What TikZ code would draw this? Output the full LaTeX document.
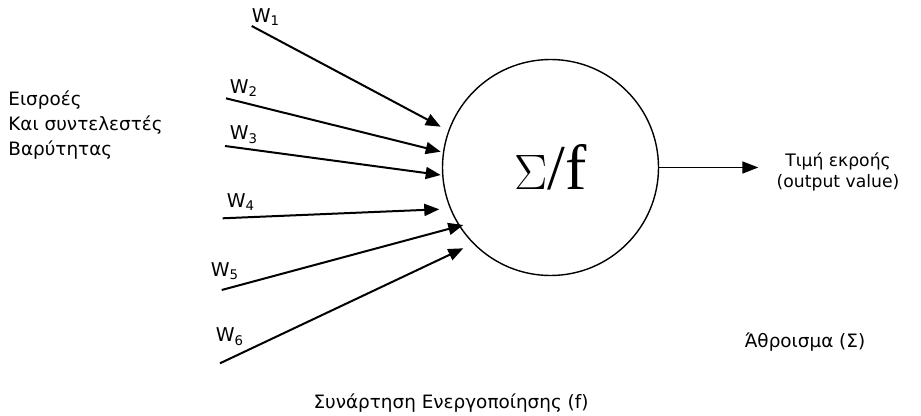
\documentclass[tikz,border=0pt]{standalone}
\usepackage{fontspec}
\setmainfont{DejaVu Sans}
\newfontfamily\symbfont{Liberation Serif}
\usepackage{tikz}
\usetikzlibrary{arrows.meta,positioning}

\begin{document}
\begin{tikzpicture}[
    x=0.5pt, y=-0.5pt,
    neuron/.style={draw, circle, line width=0.7pt, minimum size=108pt, inner sep=0pt,
                   font=\symbfont\fontsize{32}{32}\selectfont},
    txt/.style={font=\fontsize{9.2}{12.5}\selectfont, inner sep=0pt},
    wlbl/.style={font=\fontsize{9.5}{9.5}\selectfont, inner sep=0pt},
    inp/.style={-{Triangle[length=7.5pt,width=6pt]}, line width=1pt},
    outp/.style={-{Triangle[length=8pt,width=6pt]}, line width=0.8pt}
  ]
    \useasboundingbox (0,0) rectangle (921,416);

    %% ── neuron ──
    \node[neuron] (sum) at (550.5,167.5) {$\Sigma$/f};

    %% ── inputs and weights ──
    \node[txt, anchor=west, align=left] (inlbl) at (8,125) {Εισροές\\Και συντελεστές\\Βαρύτητας};

    \coordinate (s1) at (251.7,26);   \coordinate (t1) at (440.7,126.7);
    \coordinate (s2) at (226,98.3);   \coordinate (t2) at (440.7,151.7);
    \coordinate (s3) at (225,146);    \coordinate (t3) at (440.7,175);
    \coordinate (s4) at (222.7,218.3); \coordinate (t4) at (439.3,209.3);
    \coordinate (s5) at (221.7,290);  \coordinate (t5) at (463.3,225);
    \coordinate (s6) at (220,363.3);  \coordinate (t6) at (463.3,248.3);

    \node[wlbl] (w1) at (266,17)  {W\textsubscript{1}};
    \node[wlbl] (w2) at (244,88)  {W\textsubscript{2}};
    \node[wlbl] (w3) at (244,135) {W\textsubscript{3}};
    \node[wlbl] (w4) at (241,202) {W\textsubscript{4}};
    \node[wlbl] (w5) at (225,271) {W\textsubscript{5}};
    \node[wlbl] (w6) at (230,337) {W\textsubscript{6}};

    \draw[inp] (s1) -- (t1);
    \draw[inp] (s2) -- (t2);
    \draw[inp] (s3) -- (t3);
    \draw[inp] (s4) -- (t4);
    \draw[inp] (s5) -- (t5);
    \draw[inp] (s6) -- (t6);

    %% ── output ──
    \node[txt, align=center, font=\fontsize{8.6}{10.5}\selectfont] (out) at (838,172) {Τιμή εκροής\\(output value)};
    \draw[outp, shorten >=9pt] (sum.east) -- (sum.east -| out.west);

    %% ── legend ──
    \node[txt] (sumlbl) at (805,342) {Άθροισμα (Σ)};
    \node[txt] (actlbl) at (451,403) {Συνάρτηση Ενεργοποίησης (f)};
  \end{tikzpicture}
\end{document}
